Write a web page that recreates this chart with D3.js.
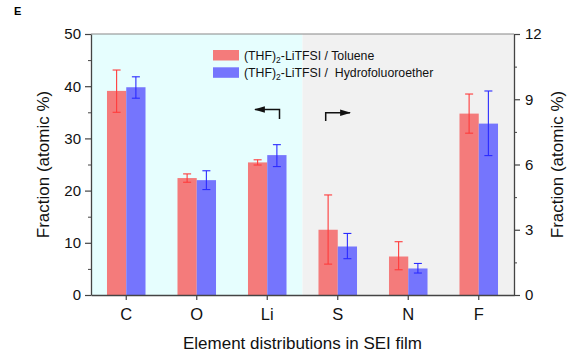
<!DOCTYPE html>
<html>
<head>
<meta charset="utf-8">
<script src="https://cdn.jsdelivr.net/npm/d3@7"></script>
<style>
  body { margin: 0; background: #fff; }
  svg { font-family: "Liberation Sans", Arial, sans-serif; }
</style>
</head>
<body>
<div id="chart"></div>
<script>
// element categories: first three read on left axis, last three on right axis
const elements = ["C", "O", "Li", "S", "N", "F"];
const leftElements = ["C", "O", "Li"];
const seriesNames = ["toluene", "hfe"];

// mean values and error bar ends (low, high)
const toluene = [39.1, 22.4, 25.4, 3.0, 1.77, 8.34];
const tolueneLow = [35.0, 21.6, 24.9, 1.42, 1.16, 7.44];
const tolueneHigh = [43.1, 23.2, 25.9, 4.6, 2.45, 9.24];
const hfe = [39.8, 22.0, 26.8, 2.23, 1.22, 7.88];
const hfeLow = [37.7, 20.2, 24.6, 1.67, 1.01, 6.41];
const hfeHigh = [41.8, 23.8, 28.8, 2.83, 1.45, 9.38];

const leftTicks = [0, 10, 20, 30, 40, 50];
const rightTicks = [0, 3, 6, 9, 12];

const W = 568, H = 353;
const margin = { top: 34, right: 54, bottom: 58, left: 91 };
const width = W - margin.left - margin.right,
  height = H - margin.top - margin.bottom;

const svg = d3.select("#chart").append("svg")
  .attr("width", W).attr("height", H);

const g = svg.append("g")
  .attr("transform", `translate(${margin.left},${margin.top})`);

const x = d3.scaleBand().domain(elements).range([0, width]).padding(0);
const x1 = d3.scaleBand().domain(seriesNames).range([0, x.bandwidth()])
  .paddingInner(0).paddingOuter(0.83);
const yL = d3.scaleLinear().domain([0, 50]).range([height, 0]);
const yR = d3.scaleLinear().domain([0, 12]).range([height, 0]);

// background regions
const split = x("Li") + x.bandwidth();
g.append("rect").attr("x", 0).attr("y", 0)
  .attr("width", split).attr("height", height).attr("fill", "#e6fefe");
g.append("rect").attr("x", split).attr("y", 0)
  .attr("width", width - split).attr("height", height).attr("fill", "#f1f1f1");

// build rows
const rows = [];
elements.forEach((el, i) => {
  const yScale = leftElements.includes(el) ? yL : yR;
  rows.push({ el, s: "toluene", v: toluene[i], lo: tolueneLow[i], hi: tolueneHigh[i], y: yScale });
  rows.push({ el, s: "hfe", v: hfe[i], lo: hfeLow[i], hi: hfeHigh[i], y: yScale });
});

const barColor = { toluene: "#f47b7b", hfe: "#7575fd" };
const errColor = { toluene: "#ff3b3b", hfe: "#2b2bff" };

g.append("g").selectAll("rect")
  .data(rows)
  .join("rect")
  .attr("x", d => x(d.el) + x1(d.s))
  .attr("width", x1.bandwidth())
  .attr("y", d => d.y(d.v))
  .attr("height", d => height - d.y(d.v))
  .attr("fill", d => barColor[d.s]);

// error bars
const err = g.append("g").selectAll("g")
  .data(rows)
  .join("g")
  .attr("stroke", d => errColor[d.s])
  .attr("stroke-width", 1.1);
const cx = d => x(d.el) + x1(d.s) + x1.bandwidth() / 2;
err.append("line")
  .attr("x1", cx).attr("x2", cx)
  .attr("y1", d => d.y(d.lo)).attr("y2", d => d.y(d.hi));
err.append("line")
  .attr("x1", d => cx(d) - 4).attr("x2", d => cx(d) + 4)
  .attr("y1", d => d.y(d.lo)).attr("y2", d => d.y(d.lo));
err.append("line")
  .attr("x1", d => cx(d) - 4).attr("x2", d => cx(d) + 4)
  .attr("y1", d => d.y(d.hi)).attr("y2", d => d.y(d.hi));

// top frame line
g.append("line").attr("x1", 0).attr("x2", width).attr("y1", 0).attr("y2", 0)
  .attr("stroke", "#888").attr("stroke-width", 1.2);

const axisColor = "#444";
function styleAxis(a, size) {
  a.select(".domain").attr("stroke", axisColor).attr("stroke-width", 1.3);
  a.selectAll(".tick line").attr("stroke", axisColor).attr("stroke-width", 1.2);
  a.selectAll("text").attr("fill", "#111").attr("font-size", size)
    .attr("font-family", "Liberation Sans, Arial, sans-serif");
}

// minor ticks
const leftMinor = d3.range(5, 50, 10);
const rightMinor = d3.range(1.5, 12, 3);

const la = g.append("g")
  .call(d3.axisLeft(yL).tickValues(leftTicks).tickSize(6).tickSizeOuter(0).tickPadding(4));
styleAxis(la, 15);
g.append("g").call(d3.axisLeft(yL).tickValues(leftMinor).tickSize(3).tickFormat(""))
  .call(a => { a.select(".domain").remove(); a.selectAll(".tick line").attr("stroke", axisColor); });

const ra = g.append("g").attr("transform", `translate(${width},0)`)
  .call(d3.axisRight(yR).tickValues(rightTicks).tickSize(6).tickSizeOuter(0).tickPadding(5));
styleAxis(ra, 15);
g.append("g").attr("transform", `translate(${width},0)`)
  .call(d3.axisRight(yR).tickValues(rightMinor).tickSize(3).tickFormat(""))
  .call(a => { a.select(".domain").remove(); a.selectAll(".tick line").attr("stroke", axisColor); });

const ba = g.append("g").attr("transform", `translate(0,${height})`)
  .call(d3.axisBottom(x).tickSize(5).tickSizeOuter(0).tickPadding(8));
styleAxis(ba, 16.5);

// axis titles
g.append("text")
  .attr("transform", `translate(${-42},${height / 2}) rotate(-90)`)
  .attr("text-anchor", "middle")
  .attr("font-size", 17).attr("fill", "#111")
  .text("Fraction (atomic %)");
g.append("text")
  .attr("transform", `translate(${width + 49},${height / 2}) rotate(-90)`)
  .attr("text-anchor", "middle")
  .attr("font-size", 17).attr("fill", "#111")
  .text("Fraction (atomic %)");
g.append("text")
  .attr("x", width / 2).attr("y", height + 54)
  .attr("text-anchor", "middle")
  .attr("font-size", 17).attr("fill", "#111")
  .text("Element distributions in SEI film");

// panel label
svg.append("text").attr("x", 14).attr("y", 15)
  .attr("font-size", 11).attr("font-weight", "bold").text("E");

// legend
const legendItems = [
  { s: "toluene", pre: "(THF)", post: "-LiTFSI / Toluene" },
  { s: "hfe", pre: "(THF)", post: "-LiTFSI /  Hydrofoluoroether" }
];
const lg = svg.append("g").attr("transform", "translate(213,50)");
legendItems.forEach((it, i) => {
  lg.append("rect").attr("x", 0).attr("y", i * 17.3)
    .attr("width", 26).attr("height", 10.5).attr("fill", barColor[it.s]);
  const t = lg.append("text").attr("x", 31).attr("y", i * 17.3 + 10)
    .attr("font-size", 12.3).attr("fill", "#111")
    .style("white-space", "pre");
  t.append("tspan").text(it.pre);
  t.append("tspan").attr("font-size", 8.5).attr("dy", 3).text("2");
  t.append("tspan").attr("dy", -3).text(it.post);
});

// direction arrows
svg.append("defs").append("marker")
  .attr("id", "arrowhead").attr("viewBox", "0 0 10 10")
  .attr("refX", 9).attr("refY", 5)
  .attr("markerWidth", 11).attr("markerHeight", 6.5)
  .attr("markerUnits", "userSpaceOnUse")
  .attr("orient", "auto")
  .attr("preserveAspectRatio", "none")
  .append("path").attr("d", "M0,0 L10,5 L0,10 Z").attr("fill", "#111");

svg.append("path")
  .attr("d", `M279.5,119 V109.5 H255`)
  .attr("fill", "none").attr("stroke", "#111").attr("stroke-width", 1.5)
  .attr("marker-end", "url(#arrowhead)");
svg.append("path")
  .attr("d", `M325.7,121 V112.7 H350`)
  .attr("fill", "none").attr("stroke", "#111").attr("stroke-width", 1.5)
  .attr("marker-end", "url(#arrowhead)");
</script>
</body>
</html>
